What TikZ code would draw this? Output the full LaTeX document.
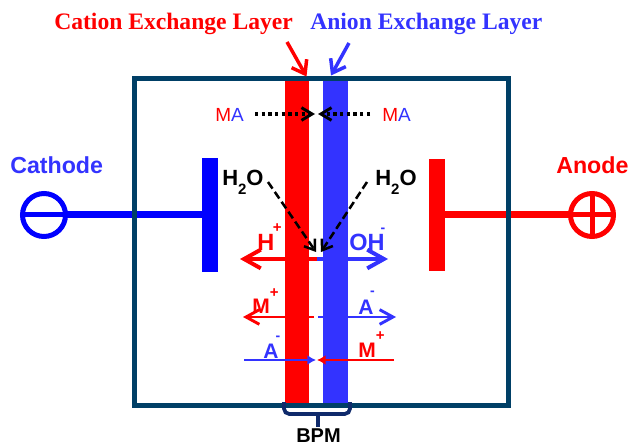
\documentclass[tikz,border=0pt]{standalone}
\usepackage{fontspec}
\setmainfont{Liberation Serif}
\setsansfont{Liberation Sans}
\usetikzlibrary{arrows.meta}
\definecolor{cred}{HTML}{FF0000}
\definecolor{cblue}{HTML}{3333FF}
\definecolor{pureblue}{HTML}{0000FF}
\definecolor{framec}{HTML}{003F66}
\definecolor{bracec}{HTML}{0F2A6B}
\newcommand{\px}[1]{\fontsize{\fpeval{#1*0.75}}{\fpeval{#1*0.9}}\selectfont}
\newcommand{\plus}[2]{\kern#1\raisebox{#2}{\px{15}+}}
\newcommand{\minus}[2]{\kern#1\raisebox{#2}{\px{14}-}}
\tikzset{
  x=0.75pt,y=-0.75pt,
  lab/.style={inner sep=0pt,anchor=base west,font=\sffamily\bfseries\px{23.2}},
  ion/.style={inner sep=0pt,anchor=base west,font=\sffamily\bfseries\px{21}},
  bigion/.style={inner sep=0pt,anchor=base west,font=\sffamily\bfseries\px{23.5}},
  water/.style={inner sep=0pt,anchor=base west,text=black,font=\sffamily\bfseries\px{22}},
  title/.style={inner sep=0pt,anchor=base west,font=\rmfamily\bfseries\px{23.6}},
  block/.style={inner sep=0pt,outer sep=0pt,draw=none,anchor=north west},
  term/.style={circle,inner sep=0pt,outer sep=0pt,minimum size=32.25pt,line width=3.75pt},
  wire/.style={line width=5.25pt},
  callout/.style={line width=2.6pt,-{Straight Barb[length=9pt,width=13pt,line width=2.6pt]}},
  dots/.style={line width=2.6pt,dash pattern=on 2.4pt off 2.6pt,-{Straight Barb[length=8pt,width=9.5pt,line width=2.2pt]}},
  dash1/.style={line width=1.9pt,dash pattern=on 6pt off 3pt,-{Straight Barb[length=7pt,width=10pt,line width=1.9pt]}},
  big/.style={line width=3pt,-{Straight Barb[length=12.5pt,width=14pt,line width=3pt]}},
  mid/.style={line width=2.2pt,-{Straight Barb[length=10pt,width=11pt,line width=2.2pt]}},
  small/.style={line width=1.8pt,-{Latex[length=6.5pt,width=7.5pt]}},
  ma/.style={inner sep=0pt,anchor=base west,font=\sffamily\px{19}},
}
\begin{document}
\begin{tikzpicture}
\useasboundingbox (0,0) rectangle (628,445);
% membranes
\node[block,fill=cred,minimum width=18pt,minimum height=243.75pt] (cel) at (285,78) {};
\node[block,fill=cblue,minimum width=18.75pt,minimum height=243.75pt] (ael) at (323,78) {};
% electrodes
\node[block,fill=pureblue,minimum width=12pt,minimum height=85.5pt] (cat) at (202,158) {};
\node[block,fill=cred,minimum width=12pt,minimum height=84pt] (ano) at (429,159) {};
\node[term,draw=pureblue] (ct) at (44,215) {};
\node[term,draw=cred] (at) at (592,215) {};
\draw[wire,pureblue] (ct.east) -- (cat.west |- ct.east);
\draw[wire,cred] (at.west) -- (ano.east |- at.west);
\draw[pureblue,line width=3.75pt] (ct.west) -- (ct.east);
\draw[cred,line width=3.75pt] (at.west) -- (at.east) (at.north) -- (at.south);
% frame
\node[draw=framec,line width=3.75pt,inner sep=0pt,outer sep=0pt,anchor=north west,minimum width=280.5pt,minimum height=245.25pt] (frame) at (134.5,78.5) {};
% titles
\node[title,text=cred] (t1) at (54,30) {Cation Exchange Layer};
\node[title,text=cblue] (t2) at (310,30) {Anion Exchange Layer};
\coordinate (c1) at (287,42); \coordinate (c1e) at (306.5,76.5);
\coordinate (c2) at (349,43); \coordinate (c2e) at (331,75.5);
\draw[callout,cred] (c1) -- (c1e);
\draw[callout,cblue] (c2) -- (c2e);
\node[lab,text=cblue] (cl) at (10,174) {Cathode};
\node[lab,text=cred] (al) at (556,174) {Anode};
% MA
\node[ma] (ma1) at (215,122) {\textcolor{cred}{M}\textcolor{cblue}{A}};
\node[ma] (ma2) at (382,122) {\textcolor{cred}{M}\textcolor{cblue}{A}};
\coordinate (d1) at (255,114); \coordinate (d2) at (370,114); \coordinate (dc1) at (315,114); \coordinate (dc2) at (318,114);
\draw[dots] (d1) -- (dc1);
\draw[dots] (d2) -- (dc2);
% water
\node[water] (w1) at (222,186) {H\raisebox{-6.5pt}{\px{15}2}O};
\node[water] (w2) at (375,186) {H\raisebox{-6.5pt}{\px{15}2}O};
\coordinate (e1) at (268,182); \coordinate (e1e) at (316,252);
\coordinate (e2) at (367,182); \coordinate (e2e) at (321,252);
\draw[dash1] (e1) -- (e1e);
\draw[dash1] (e2) -- (e2e);
% H+ OH-
\coordinate (h0) at (317,259); \coordinate (hl) at (240,259); \coordinate (hr) at (388,259);
\draw[big,cred] (h0) -- (hl);
\draw[big,cblue] (h0) -- (hr);
\node[bigion,text=cred] (hp) at (257,251) {H\plus{-1pt}{14pt}};
\node[bigion,text=cblue] (oh) at (349,251) {OH\minus{-3pt}{13.5pt}};
% M+ A- row
\coordinate (m0) at (314,317); \coordinate (ml) at (243,317);
\coordinate (a0) at (318,317); \coordinate (ar) at (396,317);
\draw[mid,cred] (m0) -- (ml);
\draw[mid,cblue] (a0) -- (ar);
\node[ion,text=cred] (mp) at (252,313) {M\plus{0pt}{11.5pt}};
\node[ion,text=cblue] (am) at (358,314) {A\minus{-2.4pt}{14pt}};
% A- M+ row
\coordinate (b0) at (244,360); \coordinate (b1) at (316,360);
\coordinate (r0) at (394,360); \coordinate (r1) at (317,360);
\draw[small,cblue] (b0) -- (b1);
\draw[small,cred] (r0) -- (r1);
\node[ion,text=cblue] (am2) at (263,358) {A\minus{-2.2pt}{13pt}};
\node[ion,text=cred] (mp2) at (358,357.5) {M\plus{0pt}{13pt}};
% brace
\coordinate (bl) at (284,402); \coordinate (br) at (350,402); \coordinate (bt) at (318,427);
\draw[bracec,line width=2.8pt,rounded corners=4pt] (bl) -- (bl |- 0,414) -- (br |- 0,414) -- (br);
\draw[bracec,line width=2.8pt] (bt |- 0,414) -- (bt);
\node[inner sep=0pt,anchor=base west,text=black,font=\sffamily\bfseries\px{20}] (bpm) at (296,442) {BPM};
\end{tikzpicture}
\end{document}
